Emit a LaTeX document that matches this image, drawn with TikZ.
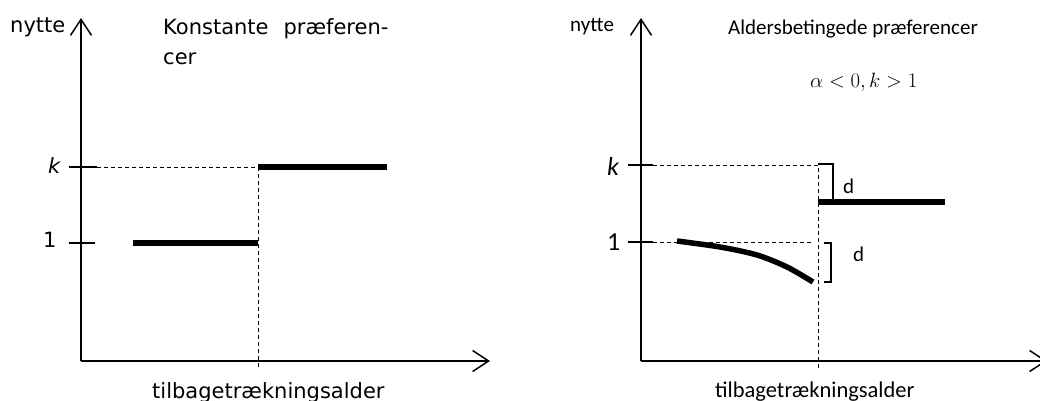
\documentclass[tikz,border=0pt]{standalone}
\usepackage{fontspec}
\newfontfamily\verd{DejaVu Sans}
\newfontfamily\calib{Carlito}
\usetikzlibrary{arrows.meta}
\begin{document}
\begin{tikzpicture}[x=1pt,y=-1pt,
  axis/.style={line width=1.5pt,-{Straight Barb[length=16pt,width=21pt]}},
  tickmark/.style={line width=1.3pt},
  dsh/.style={line width=1pt,dash pattern=on 4pt off 3pt},
  curveline/.style={line width=5.5pt},
  bracket/.style={line width=1.2pt},
  vt/.style={inner sep=0pt,font=\verd\fontsize{21}{25}\selectfont},
  ct/.style={inner sep=0pt,font=\calib\fontsize{21}{25}\selectfont},
  cbig/.style={inner sep=0pt,font=\calib\fontsize{26}{30}\selectfont},
]
\useasboundingbox (0,0) rectangle (1040,401);
% ---------- left panel ----------
\coordinate (LO) at (81,361);
\coordinate (LY) at (81,18);
\coordinate (LX) at (490,361);
\draw[axis] (LO) -- (LY);
\draw[axis] (LO) -- (LX);
\coordinate (Lk0) at (69,167); \coordinate (Lk1) at (97,167);
\coordinate (L10) at (69,243); \coordinate (L11) at (95,243);
\draw[tickmark] (Lk0) -- (Lk1);
\draw[tickmark] (L10) -- (L11);
\coordinate (Lr) at (258,167); \coordinate (Lb) at (258,370);
\draw[dsh] (Lk1) -- (Lr) -- (Lb);
\coordinate (La) at (133,243); \coordinate (Lc) at (258,243);
\coordinate (Ld) at (387,167);
\draw[curveline] (La) -- (Lc);
\draw[curveline] (Lr) -- (Ld);
\node[vt,anchor=base west] (lny) at (10,33) {nytte};
\node[vt,anchor=base west] (ltitle) at (163,35) {Konstante\hspace{15pt}præferen-};
\node[vt,anchor=base west] (ltitle2) at (163,65) {cer};
\node[vt,anchor=base west] (lk) at (48,173) {\itshape k};
\node[vt,anchor=base west] (l1) at (43,247) {1};
\node[vt,anchor=base west] (lxl) at (152,398) {tilbagetrækningsalder};
% ---------- right panel ----------
\coordinate (RO) at (641,361);
\coordinate (RY) at (641,18);
\coordinate (RX) at (1047,361);
\draw[axis] (RO) -- (RY);
\draw[axis] (RO) -- (RX);
\coordinate (Rk0) at (628,165); \coordinate (Rk1) at (653,165);
\coordinate (R10) at (628,242); \coordinate (R11) at (653,242);
\draw[tickmark] (Rk0) -- (Rk1);
\draw[tickmark] (R10) -- (R11);
\coordinate (Rr) at (818,165); \coordinate (Rb) at (818,370);
\draw[dsh] (Rk1) -- (Rr) -- (Rb);
\coordinate (R1e) at (811,242);
\draw[dsh] (R11) -- (R1e);
\coordinate (Rs) at (818,202); \coordinate (Re) at (945,202);
\draw[curveline] (Rs) -- (Re);
\draw[curveline] plot[smooth] coordinates {(677,241) (720,247) (757,255) (787,267) (813,282)};
\coordinate (B1a) at (818,164); \coordinate (B1b) at (833,164); \coordinate (B1c) at (833,202);
\draw[bracket] (B1a) -- (B1b) -- (B1c);
\coordinate (B2a) at (824,243); \coordinate (B2b) at (831,243);
\coordinate (B2c) at (831,282); \coordinate (B2d) at (824,282);
\draw[bracket] (B2a) -- (B2b) -- (B2c) -- (B2d);
\node[ct,anchor=base west] (rny) at (570,32) {nytte};
\node[ct,anchor=base west] (rtitle) at (728,35) {Aldersbetingede præferencer};
\node[inner sep=0pt,anchor=base west,font=\fontsize{22.5}{27}\selectfont] (rmath) at (810,88) {$\alpha<0,k>1$};
\node[cbig,anchor=base west] (rk) at (607,175) {\itshape k};
\node[cbig,anchor=base west] (r1) at (607,250) {1};
\node[ct,anchor=base west] (rd1) at (843,193) {d};
\node[ct,anchor=base west] (rd2) at (853,261) {d};
\node[inner sep=0pt,anchor=base west,font=\calib\fontsize{22.5}{27}\selectfont] (rxl) at (715,397) {tilbagetrækningsalder};
\end{tikzpicture}
\end{document}
